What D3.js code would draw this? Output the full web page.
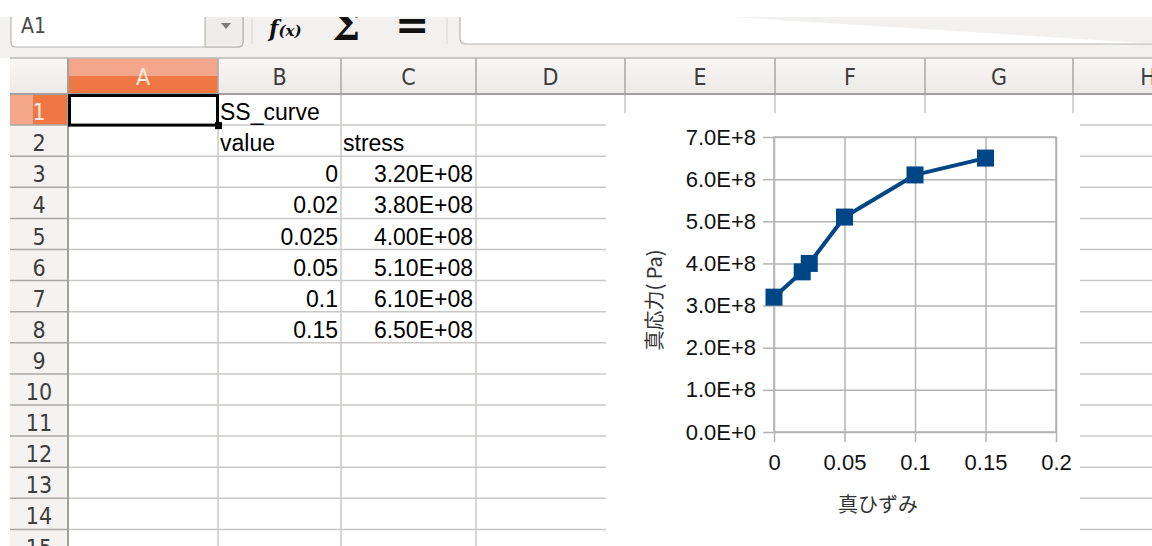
<!DOCTYPE html>
<html>
<head>
<meta charset="utf-8">
<script src="https://cdn.jsdelivr.net/npm/d3@7"></script>
<style>
  html, body { margin: 0; padding: 0; background: #ffffff; overflow: hidden; }
  svg { display: block; }
</style>
</head>
<body>
<svg id="chart" width="1152" height="546"></svg>
<script>
// ---------------- data ----------------
const sheetTitle = "SS_curve";
const colHeaders = ["value", "stress"];
const strain = [0, 0.02, 0.025, 0.05, 0.1, 0.15];
const stress = [3.2e8, 3.8e8, 4.0e8, 5.1e8, 6.1e8, 6.5e8];
const xTicks = [0, 0.05, 0.1, 0.15, 0.2];
const xTickLabels = ["0", "0.05", "0.1", "0.15", "0.2"];
const yTicks = [0, 1e8, 2e8, 3e8, 4e8, 5e8, 6e8, 7e8];
const yTickLabels = ["0.0E+0", "1.0E+8", "2.0E+8", "3.0E+8", "4.0E+8", "5.0E+8", "6.0E+8", "7.0E+8"];
const xTitle = "真ひずみ";
const yTitle = "真応力( Pa)";
const columnLetters = ["A", "B", "C", "D", "E", "F", "G", "H"];
const rowNumbers = [1, 2, 3, 4, 5, 6, 7, 8, 9, 10, 11, 12, 13, 14, 15];

// ---------------- layout ----------------
const svg = d3.select("#chart");
const W = 1152, H = 546;
const colEdges = [10, 68, 218, 341, 476, 625, 775, 925, 1073, 1223];
const headTop = 58, headBottom = 94, rowH = 31.1;
const rowTop = r => headBottom + (r - 1) * rowH;
const headerFont = "'DejaVu Sans Condensed', 'DejaVu Sans', sans-serif";
const cellFont = "'Liberation Sans', Arial, sans-serif";

// toolbar background
svg.append("rect").attr("x", 0).attr("y", 0).attr("width", W).attr("height", headTop).attr("fill", "#f2f1f0");

// name box
const nb = svg.append("g");
nb.append("path")
  .attr("d", "M11,0 L11,42 Q11,47 16,47 L238,47 Q243,47 243,42 L243,0")
  .attr("fill", "#ffffff").attr("stroke", "#b8b6b3").attr("stroke-width", 1.2);
nb.append("path")
  .attr("d", "M205,0 L205,47 L238,47 Q243,47 243,42 L243,0 Z")
  .attr("fill", "#eeedeb").attr("stroke", "#b8b6b3").attr("stroke-width", 1.2);
nb.append("path").attr("d", "M221,23 L231,23 L226,29 Z").attr("fill", "#7a7a7a");
nb.append("text").attr("x", 21).attr("y", 33).attr("font-family", headerFont)
  .attr("font-size", 21).attr("fill", "#4a4a4a").text("A1");

svg.append("line").attr("x1", 252).attr("x2", 252).attr("y1", 18).attr("y2", 44).attr("stroke", "#d8d7d5");
svg.append("line").attr("x1", 447).attr("x2", 447).attr("y1", 18).attr("y2", 44).attr("stroke", "#d8d7d5");

svg.append("text").attr("x", 269).attr("y", 36).attr("font-family", "'DejaVu Serif', serif")
  .attr("font-style", "italic").attr("font-weight", "bold").attr("fill", "#111")
  .call(t => {
    t.append("tspan").attr("font-size", 22).text("f");
    t.append("tspan").attr("font-size", 15).text("(x)");
  });
svg.append("text").attr("x", 332).attr("y", 40).attr("font-family", "'DejaVu Serif', serif")
  .attr("font-weight", "bold").attr("font-size", 40).attr("fill", "#111").text("Σ");
svg.append("text").attr("x", 395).attr("y", 39).attr("font-family", "'DejaVu Sans', sans-serif")
  .attr("font-weight", "bold").attr("font-size", 41).attr("fill", "#111").text("=");

// formula input
svg.append("path")
  .attr("d", "M460,0 L460,38 Q460,44 466,44 L1160,44")
  .attr("fill", "#ffffff").attr("stroke", "#b8b6b3").attr("stroke-width", 1.2);

// white strip at top
svg.append("rect").attr("x", 0).attr("y", 0).attr("width", W).attr("height", 17).attr("fill", "#ffffff");

// ---------------- sheet ----------------
svg.append("rect").attr("x", 68).attr("y", headBottom).attr("width", W - 68).attr("height", H - headBottom).attr("fill", "#ffffff");

const hg = svg.append("defs").append("linearGradient").attr("id", "hdr").attr("x1", 0).attr("x2", 0).attr("y1", 0).attr("y2", 1);
hg.append("stop").attr("offset", "0%").attr("stop-color", "#f8f7f6");
hg.append("stop").attr("offset", "100%").attr("stop-color", "#eceae7");
svg.append("rect").attr("x", 10).attr("y", headTop).attr("width", W - 10).attr("height", headBottom - headTop).attr("fill", "url(#hdr)");
svg.append("rect").attr("x", 10).attr("y", headBottom).attr("width", 58).attr("height", H - headBottom).attr("fill", "#f4f3f1");

// selected column A header
svg.append("rect").attr("x", colEdges[1]).attr("y", headTop).attr("width", colEdges[2] - colEdges[1]).attr("height", 18).attr("fill", "#f3a689");
svg.append("rect").attr("x", colEdges[1]).attr("y", headTop + 18).attr("width", colEdges[2] - colEdges[1]).attr("height", headBottom - headTop - 18).attr("fill", "#ee7744");
// selected row 1 header
svg.append("rect").attr("x", 10).attr("y", rowTop(1)).attr("width", 23).attr("height", rowH).attr("fill", "#f3a689");
svg.append("rect").attr("x", 33).attr("y", rowTop(1)).attr("width", 35).attr("height", rowH).attr("fill", "#ee7744");

// horizontal grid lines
rowNumbers.forEach(r => {
  const yb = rowTop(r) + rowH;
  svg.append("line").attr("x1", 68).attr("x2", W).attr("y1", yb).attr("y2", yb)
    .attr("stroke", "#c9c8c6").attr("stroke-width", 1.5);
  svg.append("line").attr("x1", 10).attr("x2", 68).attr("y1", yb).attr("y2", yb)
    .attr("stroke", "#a9a8a6").attr("stroke-width", 1.5);
});
// vertical grid lines
colEdges.slice(2).forEach(x => {
  svg.append("line").attr("x1", x).attr("x2", x).attr("y1", headBottom).attr("y2", H)
    .attr("stroke", "#c9c8c6").attr("stroke-width", 1.5);
  svg.append("line").attr("x1", x).attr("x2", x).attr("y1", headTop).attr("y2", headBottom)
    .attr("stroke", "#a9a8a6").attr("stroke-width", 1.5);
});
svg.append("line").attr("x1", 68).attr("x2", 68).attr("y1", headTop).attr("y2", H).attr("stroke", "#a2a19f").attr("stroke-width", 2);
svg.append("line").attr("x1", 10).attr("x2", W).attr("y1", headTop).attr("y2", headTop).attr("stroke", "#b9b8b6").attr("stroke-width", 1.5);
svg.append("line").attr("x1", 10).attr("x2", W).attr("y1", headBottom).attr("y2", headBottom).attr("stroke", "#a2a19f").attr("stroke-width", 2);

// column letters
columnLetters.forEach((c, i) => {
  svg.append("text").attr("x", (colEdges[i + 1] + colEdges[i + 2]) / 2).attr("y", 85)
    .attr("text-anchor", "middle").attr("font-family", headerFont).attr("font-size", 23)
    .attr("fill", i === 0 ? "#fde8de" : "#3d3d3d").text(c);
});
// row numbers
rowNumbers.forEach(r => {
  svg.append("text").attr("x", 39).attr("y", rowTop(r) + rowH - 5)
    .attr("text-anchor", "middle").attr("font-family", headerFont).attr("font-size", 23)
    .attr("fill", r === 1 ? "#fde8de" : "#3d3d3d").text(r);
});

// cell contents
const cell = (txt, col, row, align) => {
  const x = align === "right" ? colEdges[col + 2] - 3 : colEdges[col + 1] + 2;
  svg.append("text").attr("x", x).attr("y", rowTop(row) + rowH - 5)
    .attr("text-anchor", align === "right" ? "end" : "start")
    .attr("font-family", cellFont).attr("font-size", 23).attr("fill", "#000")
    .text(txt);
};
cell(sheetTitle, 1, 1, "left");
cell(colHeaders[0], 1, 2, "left");
cell(colHeaders[1], 2, 2, "left");
const sciFmt = v => (v / 1e8).toFixed(2) + "E+08";
strain.forEach((v, i) => cell(String(v), 1, i + 3, "right"));
stress.forEach((v, i) => cell(sciFmt(v), 2, i + 3, "right"));

// selected cell A1
svg.append("rect").attr("x", colEdges[1] + 1.5).attr("y", rowTop(1) + 1.5)
  .attr("width", colEdges[2] - colEdges[1] - 2).attr("height", rowH - 1.5)
  .attr("fill", "none").attr("stroke", "#000").attr("stroke-width", 3);
svg.append("rect").attr("x", colEdges[2] - 3).attr("y", rowTop(2) - 3).attr("width", 7).attr("height", 7).attr("fill", "#000");

// ---------------- chart ----------------
svg.append("rect").attr("x", 606).attr("y", 113).attr("width", 474).attr("height", H - 113).attr("fill", "#ffffff");

const x = d3.scaleLinear().domain([0, 0.2]).range([774, 1056]);
const y = d3.scaleLinear().domain([0, 7e8]).range([432, 137]);
const gridColor = "#b3b3b3";
const chartFont = "'Liberation Sans', Arial, sans-serif";

svg.append("g").attr("transform", `translate(0,${y(0)})`)
  .call(d3.axisBottom(x).tickValues(xTicks).tickSize(-(y(0) - y(7e8))).tickFormat(""))
  .call(g => g.select(".domain").remove())
  .call(g => g.selectAll("line").attr("stroke", gridColor).attr("stroke-width", 1.5));
svg.append("g").attr("transform", `translate(${x(0)},0)`)
  .call(d3.axisLeft(y).tickValues(yTicks).tickSize(-(x(0.2) - x(0))).tickFormat(""))
  .call(g => g.select(".domain").remove())
  .call(g => g.selectAll("line").attr("stroke", gridColor).attr("stroke-width", 1.5));

svg.append("rect").attr("x", x(0)).attr("y", y(7e8)).attr("width", x(0.2) - x(0)).attr("height", y(0) - y(7e8))
  .attr("fill", "none").attr("stroke", gridColor).attr("stroke-width", 1.5);

svg.append("g").attr("transform", `translate(${x(0)},0)`)
  .call(d3.axisLeft(y).tickValues(yTicks).tickSize(11).tickPadding(7).tickFormat((d, i) => yTickLabels[i]))
  .call(g => g.select(".domain").remove())
  .call(g => g.selectAll("line").attr("stroke", gridColor).attr("stroke-width", 1.5))
  .call(g => g.selectAll("text").attr("font-family", chartFont).attr("font-size", 22).attr("fill", "#111"));
svg.append("g").attr("transform", `translate(0,${y(0)})`)
  .call(d3.axisBottom(x).tickValues(xTicks).tickSize(10).tickPadding(12).tickFormat((d, i) => xTickLabels[i]))
  .call(g => g.select(".domain").remove())
  .call(g => g.selectAll("line").attr("stroke", gridColor).attr("stroke-width", 1.5))
  .call(g => g.selectAll("text").attr("font-family", chartFont).attr("font-size", 22).attr("fill", "#111"));

const cjk = "'Noto Sans CJK JP', 'Noto Sans CJK SC', sans-serif";
svg.append("text").attr("x", 878).attr("y", 503).attr("text-anchor", "middle").attr("dominant-baseline", "central")
  .attr("font-family", cjk).attr("font-size", 20).attr("fill", "#333").text(xTitle);
svg.append("text").attr("transform", "translate(653,300) rotate(-90)").attr("text-anchor", "middle").attr("dominant-baseline", "central")
  .attr("font-family", cjk).attr("font-size", 20).attr("fill", "#333").text(yTitle);

const pts = strain.map((s, i) => ({ s, v: stress[i] }));
svg.append("path").datum(pts)
  .attr("d", d3.line().x(d => x(d.s)).y(d => y(d.v)))
  .attr("fill", "none").attr("stroke", "#004586").attr("stroke-width", 4).attr("stroke-linejoin", "round");
const ms = 17;
svg.append("g").selectAll("rect").data(pts).join("rect")
  .attr("x", d => x(d.s) - ms / 2).attr("y", d => y(d.v) - ms / 2)
  .attr("width", ms).attr("height", ms).attr("fill", "#004586");
</script>
</body>
</html>
